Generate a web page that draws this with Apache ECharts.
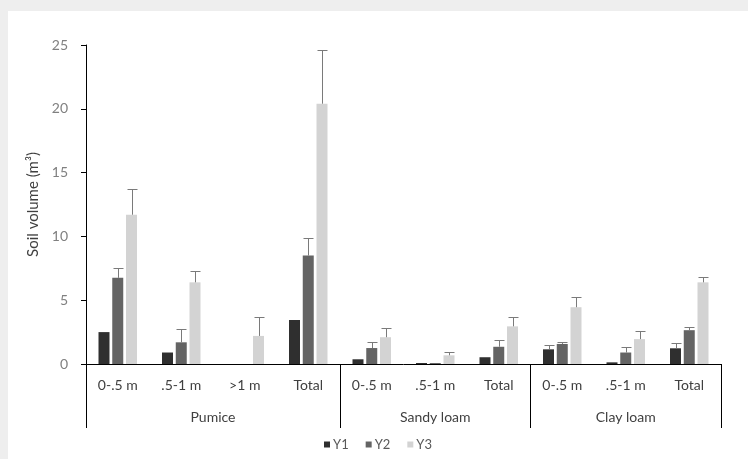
<!DOCTYPE html>
<html>
<head>
<meta charset="utf-8">
<script src="https://cdn.jsdelivr.net/npm/echarts@6/dist/echarts.min.js"></script>
<style>
  html, body { margin: 0; padding: 0; background: #eeeeee; }
  #chart { position: absolute; left: 8px; top: 11px; width: 740px; height: 448px; background: #ffffff; }
</style>
</head>
<body>
<div id="chart"></div>
<script>
// Soil volume by depth class and soil type, three years
const categories = ['0-.5 m', '.5-1 m', '>1 m', 'Total', '0-.5 m', '.5-1 m', 'Total', '0-.5 m', '.5-1 m', 'Total'];
const groups = ['Pumice', 'Sandy loam', 'Clay loam'];
const groupSizes = [4, 3, 3];

const y1 = [2.5, 0.9, 0, 3.45, 0.37, 0.08, 0.53, 1.15, 0.13, 1.23];
const y2 = [6.75, 1.7, 0, 8.5, 1.25, 0.08, 1.35, 1.57, 0.9, 2.65];
const y3 = [11.7, 6.4, 2.2, 20.4, 2.1, 0.68, 2.95, 4.45, 1.95, 6.4];

// upper error (standard error) for each bar; null = no bar drawn
const y1Err = [null, null, null, null, null, null, null, 0.32, null, 0.42];
const y2Err = [0.8, 1.05, null, 1.4, 0.5, null, 0.5, 0.15, 0.4, 0.25];
const y3Err = [2.0, 0.85, 1.5, 4.2, 0.7, 0.26, 0.75, 0.8, 0.6, 0.4];

const yTicks = { min: 0, max: 25, interval: 5 };

const seriesNames = ['Y1', 'Y2', 'Y3'];
const seriesColors = ['#2f2f2f', '#646464', '#d3d3d3'];
const BAR_W = 11;
const BAR_GAP = 0.25;
const FONT = 'Lato, "Open Sans", sans-serif';

// group boundaries and centres on a 0..N scale across the categories
const boundaries = [0];
const centres = [];
groupSizes.forEach(function (n) {
  const start = boundaries[boundaries.length - 1];
  centres.push(start + n / 2);
  boundaries.push(start + n);
});

const chart = echarts.init(document.getElementById('chart'));

function errorSeries(name, values, errs, idx) {
  const step = BAR_W * (1 + BAR_GAP);
  const shift = (idx - 1) * step;
  const data = values.map(function (v, i) { return [i, v, errs[i]]; })
    .filter(function (d) { return d[2] != null; });
  return {
    type: 'custom',
    name: name + ' error',
    xAxisIndex: 0,
    yAxisIndex: 0,
    silent: true,
    z: 3,
    data: data,
    renderItem: function (params, api) {
      const i = api.value(0);
      const lo = api.coord([i, api.value(1)]);
      const hi = api.coord([i, api.value(1) + api.value(2)]);
      const x = Math.round(lo[0] + shift) + 0.5;
      const yTop = Math.round(hi[1]) + 0.5;
      const style = { stroke: '#7a7a7a', lineWidth: 1 };
      return {
        type: 'group',
        children: [
          { type: 'line', shape: { x1: x, y1: lo[1], x2: x, y2: yTop }, style: style },
          { type: 'line', shape: { x1: x - 5, y1: yTop, x2: x + 5, y2: yTop }, style: style }
        ]
      };
    }
  };
}

const barSeries = [y1, y2, y3].map(function (vals, k) {
  return {
    type: 'bar',
    name: seriesNames[k],
    data: vals,
    barWidth: BAR_W,
    barGap: (BAR_GAP * 100) + '%',
    itemStyle: { color: seriesColors[k] },
    xAxisIndex: 0,
    yAxisIndex: 0
  };
});

chart.setOption({
  animation: false,
  textStyle: { fontFamily: FONT },
  grid: { left: 78, right: 27, top: 34, bottom: 95 },
  legend: {
    data: seriesNames,
    bottom: 3,
    left: 'center',
    icon: 'rect',
    itemWidth: 6,
    itemHeight: 6,
    itemGap: 17,
    textStyle: { fontFamily: FONT, fontSize: 13, color: '#595959', padding: [0, 0, 0, -2] }
  },
  xAxis: [
    {
      type: 'category',
      data: categories,
      axisLine: { lineStyle: { color: '#000000', width: 1 } },
      axisTick: { show: false },
      axisLabel: { color: '#404040', fontSize: 14, margin: 14, interval: 0 }
    },
    {
      // group labels underneath the depth classes
      type: 'value',
      position: 'bottom',
      min: 0,
      max: categories.length,
      axisLine: { show: false },
      splitLine: { show: false },
      axisTick: {
        show: true,
        length: 64,
        customValues: boundaries,
        lineStyle: { color: '#000000', width: 1 }
      },
      axisLabel: {
        customValues: centres,
        color: '#404040',
        fontSize: 14,
        margin: 46,
        formatter: function (v) {
          const k = centres.indexOf(v);
          return k >= 0 ? groups[k] : '';
        }
      }
    }
  ],
  yAxis: {
    type: 'value',
    min: yTicks.min,
    max: yTicks.max,
    interval: yTicks.interval,
    name: 'Soil volume (m³)',
    nameLocation: 'middle',
    nameGap: 37,
    nameTextStyle: { color: '#404040', fontSize: 15, fontFamily: FONT },
    axisLine: { show: true, lineStyle: { color: '#000000', width: 1 } },
    axisTick: { show: true, length: 5, lineStyle: { color: '#000000' } },
    axisLabel: { color: '#808080', fontSize: 14, margin: 18 },
    splitLine: { show: false }
  },
  series: barSeries.concat([
    errorSeries('Y1', y1, y1Err, 0),
    errorSeries('Y2', y2, y2Err, 1),
    errorSeries('Y3', y3, y3Err, 2)
  ])
});
</script>
</body>
</html>
